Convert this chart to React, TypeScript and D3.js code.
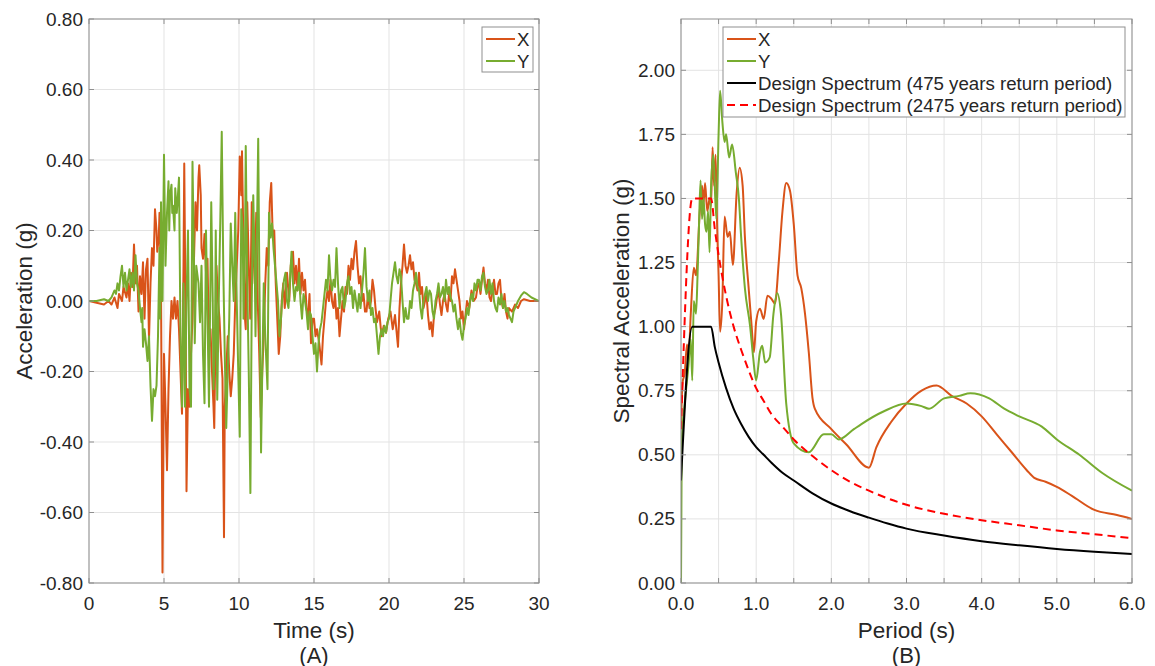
import React from "react";
import * as d3 from "d3";

// ---- data ----
// time histories [t (s), acc (g)]
const accX: [number, number][] = [
  [0,0],[0.5,-0.005],[1,-0.01],[1.3,0],[1.5,-0.01],[1.7,0.01],[1.9,-0.02],[2.0,0.02],[2.2,0.0],[2.3,0.04],[2.5,0.01],[2.6,0.05],[2.7,0.0],[2.8,0.08],[2.9,0.04],[3.0,0.16],[3.1,0.05],[3.2,0.1],[3.3,-0.03],[3.4,0.07],[3.5,0.02],[3.6,0.11],[3.7,-0.05],[3.8,0.09],[3.9,0.12],[4.0,-0.11],[4.1,0.05],[4.2,0.15],[4.3,0.1],[4.4,0.26],[4.5,0.2],[4.55,0.14],[4.65,0.18],[4.7,0.25],[4.8,0.05],[4.9,-0.77],[5.0,-0.15],[5.1,-0.3],[5.2,-0.48],[5.3,-0.25],[5.4,-0.1],[5.5,0.0],[5.6,-0.05],[5.7,0.01],[5.8,-0.05],[5.9,0.0],[6.0,-0.08],[6.1,-0.2],[6.2,-0.32],[6.3,0.1],[6.35,0.39],[6.45,-0.1],[6.5,-0.54],[6.6,-0.25],[6.7,-0.3],[6.8,-0.15],[6.9,-0.05],[7.0,0.12],[7.1,0.28],[7.2,0.2],[7.3,0.35],[7.35,0.385],[7.45,0.3],[7.5,0.15],[7.6,0.12],[7.7,0.19],[7.8,0.08],[7.9,0.12],[8.0,-0.13],[8.1,-0.08],[8.2,-0.2],[8.3,-0.3],[8.35,-0.36],[8.45,-0.05],[8.5,0.1],[8.6,0.0],[8.7,-0.05],[8.8,-0.15],[8.9,-0.22],[9.0,-0.67],[9.05,-0.3],[9.15,-0.2],[9.25,-0.1],[9.35,-0.2],[9.45,-0.27],[9.55,-0.22],[9.65,-0.15],[9.75,0.0],[9.85,0.1],[9.95,0.2],[10.05,0.41],[10.15,0.3],[10.2,0.425],[10.3,0.15],[10.4,-0.05],[10.45,-0.08],[10.55,0.28],[10.65,0.1],[10.75,-0.05],[10.85,0.28],[10.95,0.15],[11.05,0.05],[11.15,0.25],[11.25,0.0],[11.35,-0.15],[11.45,-0.33],[11.55,-0.2],[11.65,-0.1],[11.75,0.05],[11.85,0.15],[11.95,0.1],[12.05,0.28],[12.15,0.335],[12.25,0.18],[12.35,0.2],[12.45,0.05],[12.55,-0.05],[12.65,-0.15],[12.75,-0.1],[12.85,0.0],[12.95,0.05],[13.05,-0.02],[13.2,0.08],[13.35,0.0],[13.45,0.1],[13.6,0.14],[13.7,0.05],[13.8,0.1],[13.9,0.03],[14.0,0.12],[14.1,0.02],[14.2,0.08],[14.3,0.03],[14.4,0.06],[14.5,-0.02],[14.6,-0.05],[14.7,0.02],[14.8,-0.12],[14.9,-0.05],[15.0,-0.05],[15.1,-0.1],[15.2,-0.08],[15.35,-0.12],[15.5,-0.18],[15.6,-0.1],[15.7,-0.05],[15.8,0.0],[15.9,0.03],[16.0,0.0],[16.1,0.06],[16.2,0.0],[16.3,-0.02],[16.4,0.02],[16.5,-0.05],[16.6,-0.02],[16.7,-0.1],[16.8,-0.05],[16.9,0.0],[17.0,-0.03],[17.1,0.04],[17.2,0.02],[17.3,0.1],[17.4,0.06],[17.5,0.12],[17.6,0.09],[17.7,0.14],[17.8,0.17],[17.9,0.1],[18.0,0.05],[18.1,0.07],[18.2,0.0],[18.3,0.02],[18.4,-0.03],[18.5,-0.03],[18.6,0.02],[18.7,-0.02],[18.8,0.0],[18.9,0.06],[19.0,0.03],[19.1,-0.02],[19.2,-0.06],[19.35,-0.03],[19.5,-0.1],[19.65,-0.07],[19.8,-0.09],[19.95,-0.05],[20.1,-0.03],[20.25,-0.08],[20.4,-0.04],[20.6,-0.13],[20.7,-0.02],[20.8,0.05],[20.9,0.1],[21.0,0.16],[21.1,0.1],[21.2,0.08],[21.3,0.1],[21.4,0.13],[21.5,0.09],[21.6,0.11],[21.7,0.06],[21.8,0.05],[21.9,0.03],[22.0,0.08],[22.1,0.02],[22.2,0.04],[22.3,-0.02],[22.4,0.0],[22.5,0.02],[22.6,-0.04],[22.7,-0.08],[22.8,-0.06],[22.9,-0.1],[23.0,-0.04],[23.1,-0.02],[23.2,0.01],[23.3,0.03],[23.4,-0.01],[23.5,-0.04],[23.6,0.0],[23.7,0.02],[23.8,-0.01],[23.9,-0.03],[24.0,0.02],[24.1,0.0],[24.2,0.07],[24.3,0.05],[24.4,0.09],[24.5,0.06],[24.6,0.03],[24.7,0.0],[24.8,-0.05],[24.9,-0.03],[25.0,-0.08],[25.1,-0.04],[25.2,0.0],[25.35,-0.02],[25.5,0.03],[25.65,0.0],[25.8,0.01],[25.9,0.04],[26.0,0.05],[26.1,0.02],[26.2,0.06],[26.3,0.095],[26.4,0.05],[26.5,0.03],[26.6,0.06],[26.7,0.01],[26.8,0.0],[26.9,0.03],[27.0,0.06],[27.1,0.02],[27.2,0.02],[27.3,0.05],[27.4,0.06],[27.5,0.0],[27.6,-0.02],[27.7,0.02],[27.8,-0.03],[27.9,-0.05],[28.0,-0.02],[28.2,-0.03],[28.4,-0.01],[28.6,-0.02],[28.8,0.0],[29.0,0.005],[29.4,0.0],[30,0],
];

const accY: [number, number][] = [
  [0,0],[0.5,0],[1,0.005],[1.3,0.0],[1.5,0.01],[1.7,0.03],[1.8,0.02],[1.9,0.05],[2.0,0.03],[2.1,0.07],[2.2,0.1],[2.3,0.04],[2.4,0.08],[2.5,0.03],[2.6,0.06],[2.7,0.09],[2.8,0.04],[2.9,0.08],[3.0,0.03],[3.1,0.13],[3.2,0.05],[3.3,0.03],[3.4,-0.02],[3.5,-0.06],[3.55,-0.02],[3.6,-0.13],[3.7,-0.08],[3.8,-0.12],[3.9,-0.17],[4.0,-0.1],[4.1,-0.24],[4.2,-0.34],[4.3,-0.25],[4.4,-0.27],[4.5,-0.24],[4.6,-0.1],[4.7,0.15],[4.75,-0.05],[4.8,0.28],[4.9,0.0],[5.0,0.415],[5.1,0.1],[5.2,0.25],[5.3,0.34],[5.35,0.2],[5.4,0.3],[5.5,0.33],[5.55,0.25],[5.6,0.27],[5.7,0.2],[5.75,0.32],[5.85,0.25],[5.9,0.28],[6.0,0.35],[6.1,-0.1],[6.2,-0.3],[6.3,0.05],[6.4,-0.3],[6.5,0.0],[6.6,0.2],[6.7,-0.25],[6.8,-0.3],[6.9,0.395],[7.0,0.1],[7.05,-0.12],[7.15,0.1],[7.3,0.05],[7.4,-0.06],[7.5,0.1],[7.6,-0.15],[7.7,-0.29],[7.8,0.2],[7.9,-0.05],[8.0,-0.3],[8.1,0.08],[8.15,0.28],[8.25,0.0],[8.3,-0.25],[8.4,-0.1],[8.45,0.2],[8.55,-0.28],[8.65,0.0],[8.75,0.22],[8.85,0.48],[8.95,0.1],[9.05,-0.15],[9.15,-0.36],[9.25,-0.2],[9.35,-0.05],[9.45,0.22],[9.55,0.1],[9.65,0.0],[9.75,0.25],[9.85,0.0],[9.95,-0.2],[10.05,-0.385],[10.15,0.26],[10.25,0.2],[10.3,-0.05],[10.4,0.15],[10.45,0.44],[10.55,0.05],[10.65,-0.2],[10.76,-0.545],[10.85,0.0],[10.95,0.3],[11.05,0.1],[11.1,-0.1],[11.2,0.2],[11.28,0.46],[11.35,0.1],[11.47,-0.43],[11.55,-0.2],[11.65,0.05],[11.75,-0.1],[11.9,-0.25],[12.0,0.25],[12.1,0.18],[12.2,0.22],[12.3,0.15],[12.4,0.1],[12.5,0.05],[12.6,0.0],[12.7,-0.1],[12.8,-0.05],[12.9,0.02],[13.0,0.06],[13.1,0.08],[13.2,0.0],[13.3,-0.02],[13.4,0.06],[13.5,0.14],[13.6,0.05],[13.7,0.0],[13.8,0.04],[13.9,0.03],[14.0,0.08],[14.1,0.0],[14.2,-0.05],[14.3,0.02],[14.4,0.0],[14.5,-0.03],[14.6,-0.08],[14.7,-0.03],[14.8,-0.04],[14.9,-0.1],[15.0,-0.15],[15.1,-0.12],[15.2,-0.2],[15.3,-0.12],[15.4,-0.08],[15.5,-0.06],[15.6,-0.02],[15.7,0.02],[15.8,0.06],[15.9,0.03],[16.0,0.13],[16.1,0.06],[16.2,0.03],[16.3,0.06],[16.4,0.04],[16.5,0.15],[16.6,0.05],[16.7,-0.02],[16.8,0.03],[16.9,0.04],[17.0,-0.02],[17.1,0.0],[17.2,0.05],[17.3,0.07],[17.4,0.02],[17.5,0.04],[17.6,-0.02],[17.7,0.03],[17.8,0.0],[17.9,-0.03],[18.0,0.02],[18.1,-0.02],[18.2,0.03],[18.3,0.08],[18.4,0.15],[18.5,0.04],[18.6,0.0],[18.7,0.03],[18.8,-0.04],[18.9,-0.02],[19.0,-0.06],[19.1,-0.05],[19.2,-0.1],[19.3,-0.15],[19.4,-0.1],[19.5,-0.08],[19.6,-0.1],[19.7,-0.07],[19.8,-0.09],[19.9,-0.06],[20.0,-0.05],[20.1,0.0],[20.2,0.05],[20.3,0.08],[20.4,0.11],[20.5,0.07],[20.6,0.05],[20.7,0.09],[20.8,0.07],[20.9,0.0],[21.0,-0.06],[21.1,-0.02],[21.2,-0.05],[21.3,-0.05],[21.4,0.0],[21.5,-0.02],[21.6,0.03],[21.7,0.05],[21.8,0.08],[21.9,0.04],[22.0,0.03],[22.1,-0.02],[22.2,-0.05],[22.3,0.0],[22.4,0.02],[22.5,0.04],[22.6,0.0],[22.7,0.03],[22.8,0.02],[22.9,-0.03],[23.0,-0.05],[23.1,0.0],[23.2,0.02],[23.3,0.05],[23.4,0.01],[23.5,0.02],[23.6,0.04],[23.7,0.0],[23.8,0.06],[23.9,0.02],[24.0,0.04],[24.1,0.01],[24.2,0.0],[24.3,-0.03],[24.4,-0.01],[24.5,-0.05],[24.6,-0.08],[24.7,-0.05],[24.8,-0.09],[24.9,-0.11],[25.0,-0.07],[25.1,-0.05],[25.2,-0.02],[25.3,-0.04],[25.4,0.0],[25.5,0.02],[25.6,0.0],[25.7,0.05],[25.8,0.03],[25.9,0.06],[26.0,0.06],[26.1,0.03],[26.2,0.07],[26.3,0.08],[26.4,0.04],[26.5,0.02],[26.6,0.03],[26.7,0.06],[26.8,0.02],[26.9,0.05],[27.0,0.0],[27.1,-0.02],[27.2,-0.03],[27.3,0.01],[27.4,-0.01],[27.5,0.02],[27.6,-0.02],[27.7,0.0],[27.8,-0.03],[27.9,-0.02],[28.0,-0.04],[28.1,-0.05],[28.2,-0.06],[28.3,-0.03],[28.4,-0.02],[28.6,0.0],[28.8,0.015],[29.0,0.025],[29.2,0.02],[29.5,0.01],[30,0],
];

// response spectra [T (s), Sa (g)]
const spectrumX: [number, number][] = [
  [0,0.62],[0.02,0.78],[0.05,0.82],[0.08,0.93],[0.1,0.88],[0.13,1.05],[0.17,1.23],[0.2,1.2],[0.25,1.45],[0.28,1.55],[0.3,1.48],[0.32,1.56],[0.35,1.45],[0.38,1.5],[0.4,1.47],[0.42,1.7],[0.44,1.55],[0.46,1.67],[0.48,1.4],[0.5,1.2],[0.52,0.98],[0.55,1.1],[0.58,1.43],[0.62,1.35],[0.65,1.37],[0.69,1.24],[0.74,1.52],[0.78,1.62],[0.82,1.55],[0.85,1.35],[0.9,1.15],[0.94,1.0],[0.97,0.9],[1.0,1.02],[1.05,1.07],[1.1,1.03],[1.15,1.12],[1.2,1.11],[1.25,1.09],[1.3,1.25],[1.35,1.45],[1.4,1.56],[1.45,1.53],[1.5,1.4],[1.55,1.2],[1.6,1.15],[1.65,1.05],[1.7,0.9],[1.75,0.72],[1.78,0.68],[2.0,0.6],[2.2,0.54],[2.5,0.45],[2.6,0.53],[2.8,0.63],[3.0,0.7],[3.2,0.75],[3.4,0.77],[3.6,0.73],[3.8,0.7],[4.0,0.65],[4.2,0.58],[4.4,0.51],[4.6,0.44],[4.7,0.41],[4.85,0.395],[5.0,0.375],[5.2,0.34],[5.5,0.285],[5.8,0.265],[6.0,0.25],
];

const spectrumY: [number, number][] = [
  [0,0],[0.01,0.55],[0.05,0.7],[0.1,0.85],[0.13,0.95],[0.15,0.79],[0.17,1.1],[0.2,1.05],[0.22,1.2],[0.24,1.4],[0.26,1.57],[0.28,1.42],[0.3,1.5],[0.32,1.4],[0.34,1.37],[0.36,1.45],[0.38,1.29],[0.4,1.55],[0.43,1.67],[0.47,1.42],[0.5,1.75],[0.52,1.92],[0.55,1.8],[0.58,1.72],[0.6,1.75],[0.64,1.66],[0.68,1.71],[0.73,1.6],[0.77,1.5],[0.8,1.35],[0.85,1.15],[0.92,1.0],[0.96,0.88],[1.0,0.79],[1.05,0.9],[1.08,0.925],[1.12,0.86],[1.18,0.88],[1.23,1.05],[1.28,1.13],[1.33,1.05],[1.4,0.7],[1.5,0.545],[1.7,0.51],[1.9,0.58],[2.0,0.58],[2.1,0.56],[2.3,0.6],[2.4,0.62],[2.7,0.67],[3.0,0.7],[3.2,0.69],[3.3,0.68],[3.5,0.72],[3.7,0.73],[3.85,0.74],[4.1,0.72],[4.3,0.68],[4.5,0.65],[4.8,0.61],[5.0,0.56],[5.3,0.5],[5.6,0.43],[6.0,0.36],
];

const design475: [number, number][] = [
  [0,0.4],[0.15,1.0],[0.4,1.0],[0.45,0.92],[0.5,0.86],[0.6,0.76],[0.7,0.68],[0.8,0.62],[0.9,0.57],[1.0,0.53],[1.1,0.5],[1.2,0.47],[1.35,0.43],[1.5,0.4],[1.75,0.35],[2.0,0.31],[2.25,0.28],[2.5,0.255],[2.75,0.232],[3.0,0.212],[3.5,0.185],[4.0,0.163],[4.5,0.147],[5.0,0.133],[5.5,0.122],[6.0,0.113],
];

const design2475: [number, number][] = [
  [0,0.6],[0.15,1.5],[0.4,1.5],[0.45,1.38],[0.5,1.28],[0.6,1.12],[0.7,1.0],[0.8,0.91],[0.9,0.83],[1.0,0.76],[1.1,0.71],[1.2,0.66],[1.35,0.61],[1.5,0.56],[1.75,0.495],[2.0,0.44],[2.25,0.395],[2.5,0.36],[2.75,0.33],[3.0,0.305],[3.5,0.27],[4.0,0.245],[4.5,0.225],[5.0,0.205],[5.5,0.19],[6.0,0.175],
];

const timeTicks = [0, 5, 10, 15, 20, 25, 30];
const accTicks = [-0.8, -0.6, -0.4, -0.2, 0, 0.2, 0.4, 0.6, 0.8];
const periodGrid = [0, 0.5, 1, 1.5, 2, 2.5, 3, 3.5, 4, 4.5, 5, 5.5, 6];
const periodLabels = [0, 1, 2, 3, 4, 5, 6];
const saTicks = [0, 0.25, 0.5, 0.75, 1, 1.25, 1.5, 1.75, 2];

const ORANGE = "#D95319";
const GREEN = "#77AC30";
const FONT = "'Liberation Sans', Arial, Helvetica, sans-serif";
const TXT = "#262626";
const AXIS = "#8f8f8f";
const GRID = "#e3e3e3";

type Series = { data: [number, number][]; color: string; dash?: string; label: string; smooth?: boolean };

function Panel(props: {
  x0: number; x1: number; y0: number; y1: number;
  xDomain: [number, number]; yDomain: [number, number];
  xGrid: number[]; xLabels: number[]; xFmt: (v: number) => string;
  yTicks: number[]; yFmt: (v: number) => string;
  xTitle: string; yTitle: string; yTitleX: number; tag: string;
  series: Series[];
  legend: { x: number; y: number; w: number; h: number; rowY: number[] };
  id: string;
}) {
  const { x0, x1, y0, y1, series, legend } = props;
  const x = d3.scaleLinear().domain(props.xDomain).range([x0, x1]);
  const y = d3.scaleLinear().domain(props.yDomain).range([y1, y0]);
  const line = d3.line<[number, number]>().x((d) => x(d[0])).y((d) => y(d[1]));
  const smoothLine = d3.line<[number, number]>().x((d) => x(d[0])).y((d) => y(d[1])).curve(d3.curveMonotoneX);
  const tl = 5;
  const cx = (x0 + x1) / 2;
  return (
    <g>
      <defs>
        <clipPath id={props.id}>
          <rect x={x0} y={y0} width={x1 - x0} height={y1 - y0} />
        </clipPath>
      </defs>
      <rect x={x0} y={y0} width={x1 - x0} height={y1 - y0} fill="#fff" />
      {props.xGrid.map((v) => (
        <line key={"gx" + v} x1={x(v)} x2={x(v)} y1={y0} y2={y1} stroke={GRID} strokeWidth={1} />
      ))}
      {props.yTicks.map((v) => (
        <line key={"gy" + v} x1={x0} x2={x1} y1={y(v)} y2={y(v)} stroke={GRID} strokeWidth={1} />
      ))}
      <g clipPath={`url(#${props.id})`}>
        {series.map((s) => (
          <path key={s.label} d={(s.smooth ? smoothLine(s.data) : line(s.data)) || ""} fill="none" stroke={s.color}
            strokeWidth={2} strokeDasharray={s.dash} strokeLinejoin="round" />
        ))}
      </g>
      {/* ticks inside on all four sides */}
      {props.xGrid.map((v) => (
        <g key={"tx" + v} stroke={AXIS} strokeWidth={1}>
          <line x1={x(v)} x2={x(v)} y1={y1} y2={y1 - tl} />
          <line x1={x(v)} x2={x(v)} y1={y0} y2={y0 + tl} />
        </g>
      ))}
      {props.yTicks.map((v) => (
        <g key={"ty" + v} stroke={AXIS} strokeWidth={1}>
          <line x1={x0} x2={x0 + tl} y1={y(v)} y2={y(v)} />
          <line x1={x1} x2={x1 - tl} y1={y(v)} y2={y(v)} />
        </g>
      ))}
      <rect x={x0} y={y0} width={x1 - x0} height={y1 - y0} fill="none" stroke={AXIS} strokeWidth={1} />
      {props.xLabels.map((v) => (
        <text key={"lx" + v} x={x(v)} y={y1 + 20} textAnchor="middle" dominantBaseline="central"
          fontSize={19} fill={TXT}>{props.xFmt(v)}</text>
      ))}
      {props.yTicks.map((v) => (
        <text key={"ly" + v} x={x0 - 6} y={y(v)} textAnchor="end" dominantBaseline="central"
          fontSize={19} fill={TXT}>{props.yFmt(v)}</text>
      ))}
      <text x={cx} y={630} textAnchor="middle" dominantBaseline="central" fontSize={22.5} fill={TXT}>{props.xTitle}</text>
      <text x={cx} y={655} textAnchor="middle" dominantBaseline="central" fontSize={22} fill={TXT}>{props.tag}</text>
      <text transform={`translate(${props.yTitleX},${(y0 + y1) / 2}) rotate(-90)`} textAnchor="middle"
        dominantBaseline="central" fontSize={22.5} fill={TXT}>{props.yTitle}</text>
      {/* legend */}
      <rect x={legend.x} y={legend.y} width={legend.w} height={legend.h} fill="#fff" stroke={AXIS} strokeWidth={1} />
      {series.map((s, i) => (
        <g key={"lg" + s.label}>
          <line x1={legend.x + 4} x2={legend.x + 33} y1={legend.rowY[i]} y2={legend.rowY[i]}
            stroke={s.color} strokeWidth={2} strokeDasharray={s.dash} />
          <text x={legend.x + 35} y={legend.rowY[i]} dominantBaseline="central" fontSize={18.7} fill={TXT}>{s.label}</text>
        </g>
      ))}
    </g>
  );
}

export default function App() {
  return (
    <svg width={1155} height={666} style={{ position: "absolute", left: 0, top: 0, background: "#fff" }}
      fontFamily={FONT}>
      <Panel
        id="clipA"
        x0={89} x1={539} y0={19} y1={583}
        xDomain={[0, 30]} yDomain={[-0.8, 0.8]}
        xGrid={timeTicks} xLabels={timeTicks} xFmt={(v) => String(v)}
        yTicks={accTicks} yFmt={(v) => d3.format(".2f")(v).replace("−", "-")}
        xTitle="Time (s)" yTitle="Acceleration (g)" yTitleX={24} tag="(A)"
        series={[
          { data: accX, color: ORANGE, label: "X" },
          { data: accY, color: GREEN, label: "Y" },
        ]}
        legend={{ x: 482, y: 27, w: 51, h: 45, rowY: [39, 61] }}
      />
      <Panel
        id="clipB"
        x0={681} x1={1132} y0={19} y1={583}
        xDomain={[0, 6]} yDomain={[0, 2.2]}
        xGrid={periodGrid} xLabels={periodLabels} xFmt={(v) => v.toFixed(1)}
        yTicks={saTicks} yFmt={(v) => v.toFixed(2)}
        xTitle="Period (s)" yTitle="Spectral Acceleration (g)" yTitleX={621} tag="(B)"
        series={[
          { data: spectrumX, color: ORANGE, label: "X", smooth: true },
          { data: spectrumY, color: GREEN, label: "Y", smooth: true },
          { data: design475, color: "#000000", label: "Design Spectrum (475 years return period)", smooth: true },
          { data: design2475, color: "#FF0000", dash: "8,5", label: "Design Spectrum (2475 years return period)", smooth: true },
        ]}
        legend={{ x: 723, y: 27, w: 402, h: 90, rowY: [39, 61, 83, 105] }}
      />
    </svg>
  );
}
